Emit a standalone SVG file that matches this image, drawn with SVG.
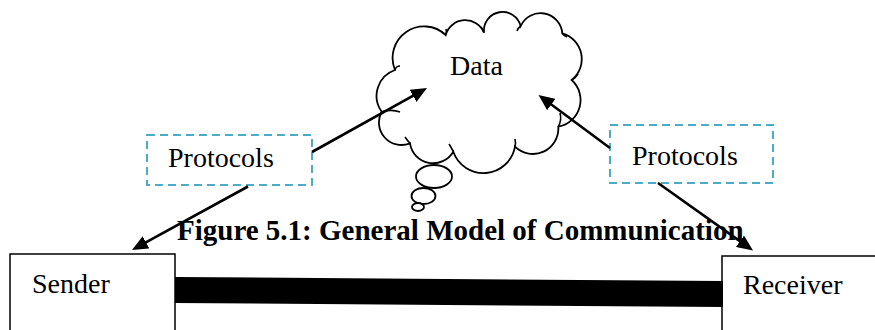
<svg xmlns="http://www.w3.org/2000/svg" width="875" height="330" viewBox="0 0 875 330">
  <style>
    .t { font-family: "Liberation Serif", "Times New Roman", serif; font-size: 28px; fill: #000; }
    .title { font-family: "Liberation Serif", "Times New Roman", serif; font-size: 29px; font-weight: bold; fill: #000; }
    .box { fill: #fff; stroke: #000; stroke-width: 1.5; }
    .proto { fill: #fff; stroke: #4BACC6; stroke-width: 2; stroke-dasharray: 8 5; }
    .cloud { fill: #fff; stroke: #000; stroke-width: 1.8; }
    .inner { fill: none; stroke: #000; stroke-width: 1.6; }
    .arrow { stroke: #000; stroke-width: 2.6; fill: none; marker-end: url(#ah); }
  </style>
  <defs>
    <marker id="ah" viewBox="0 0 16 14" refX="8" refY="7" markerWidth="16" markerHeight="14" markerUnits="userSpaceOnUse" orient="auto">
      <path d="M0,0 L16,7 L0,14 Z" fill="#000"/>
    </marker>
  </defs>

  <g id="data-cloud">
    <path class="cloud" d="M395,70 A27.3,27.3 0 0 0 381.7,111.7 A22.5,22.5 0 0 0 410,143.3 A23.4,23.4 0 0 0 453.3,151.7 A32,32 0 0 0 515,146.7 A25.5,25.5 0 0 0 558.3,126.7 A27.1,27.1 0 0 0 571.7,80 A26.8,26.8 0 0 0 562.3,33.3 A21.8,21.8 0 0 0 520.7,26 A18.7,18.7 0 0 0 484,32.7 A20.3,20.3 0 0 0 445.7,35 A31.5,31.5 0 0 0 395,70 Z"/>
    <path class="inner" d="M395,70 Q396,66 400,66"/>
    <path class="inner" d="M381.7,111.7 Q392,109 400,112"/>
    <path class="inner" d="M410,143.3 Q407,140 405,137"/>
    <path class="inner" d="M453.3,151.7 Q451,147 449,144"/>
    <path class="inner" d="M515,146.7 Q516,143 515,139"/>
    <path class="inner" d="M558.3,126.7 Q562,120 560,113"/>
    <path class="inner" d="M571.7,80 Q576,78 578,74"/>
    <path class="inner" d="M562.3,33.3 Q564,36 567,37"/>
    <path class="inner" d="M520.7,26 Q518,28 517,31"/>
    <path class="inner" d="M484,32.7 Q483,29 481,27"/>
    <path class="inner" d="M445.7,35 Q447,32 446,29"/>
    <ellipse class="cloud" cx="434" cy="176.5" rx="18" ry="11.5"/>
    <ellipse class="cloud" cx="423.5" cy="196" rx="12" ry="8"/>
    <ellipse class="cloud" cx="418" cy="207" rx="6" ry="4"/>
    <text class="t" x="450" y="75">Data</text>
  </g>

  <g id="protocols-left">
    <rect class="proto" x="147" y="135" width="165" height="50"/>
    <text class="t" x="168" y="167">Protocols</text>
  </g>

  <g id="protocols-right">
    <rect class="proto" x="610" y="125" width="163" height="58"/>
    <text class="t" x="632" y="165">Protocols</text>
  </g>

  <g id="title">
    <text class="title" x="177" y="240">Figure 5.1: General Model of Communication</text>
  </g>

  <g id="sender">
    <rect class="box" x="10" y="254" width="165" height="90"/>
    <text class="t" x="32" y="293">Sender</text>
  </g>

  <g id="receiver">
    <rect class="box" x="722" y="256" width="165" height="90"/>
    <text class="t" x="743" y="294">Receiver</text>
  </g>

  <g id="connectors">
    <polygon points="175,277 723,281 723,307 175,303" fill="#000"/>
    <line class="arrow" x1="312" y1="152" x2="420" y2="91.9"/>
    <line class="arrow" x1="610" y1="148" x2="544.9" y2="99.8"/>
    <line class="arrow" x1="248" y1="186.5" x2="139" y2="246.2"/>
    <line class="arrow" x1="658" y1="183" x2="746.5" y2="245.9"/>
  </g>
</svg>
